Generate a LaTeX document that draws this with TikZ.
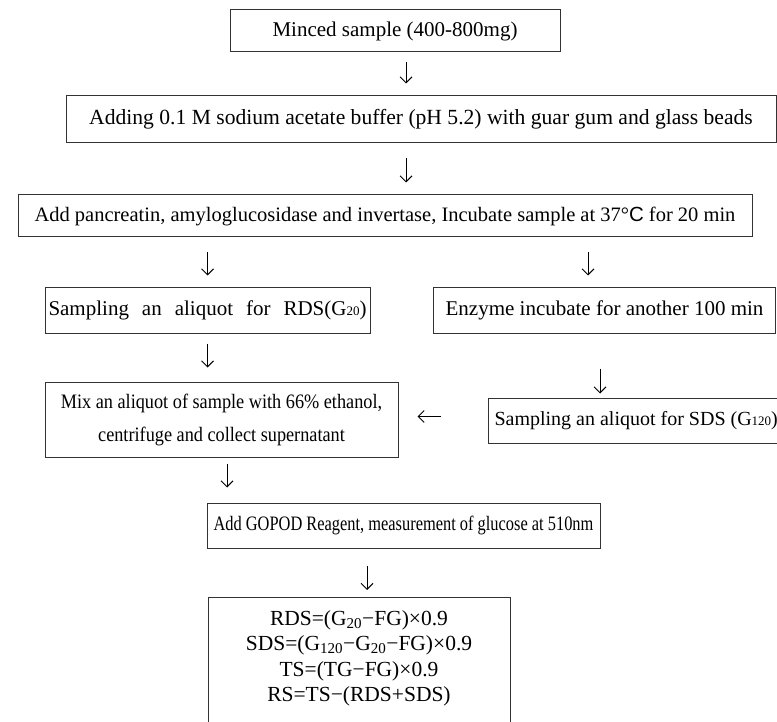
\documentclass[tikz,border=0pt]{standalone}
\usepackage{fontspec}
\setmainfont{Liberation Serif}
\newfontfamily\sansC{Liberation Sans}
\newfontfamily\mixfont[FakeStretch=0.89]{Liberation Serif}
\newfontfamily\gopodfont[FakeStretch=0.8]{Liberation Serif}
\usetikzlibrary{arrows.meta}

\begin{document}
\begin{tikzpicture}[x = 1pt, y = -1pt, >= {Straight Barb[length=6pt,width=12pt]},
  box/.style = {draw = black!80, line width = 1pt, inner sep = 0pt,
                font = \fontsize{21}{30}\selectfont},
  flow/.style = {->, line width = 1pt}]
  \useasboundingbox (0, 0) rectangle (777, 722);
  \clip (0, 0) rectangle (777, 722);
  % boxes
  \node[box, minimum width = 330, minimum height = 42] (minced) at (395, 31) {Minced sample (400-800mg)};
  \node[box, minimum width = 710, minimum height = 47, font = \fontsize{21.6}{30}\selectfont] (adding) at (421, 119.5) {Adding 0.1 M sodium acetate buffer (pH 5.2) with guar gum and glass beads};
  \node[box, minimum width = 734, minimum height = 42, font = \fontsize{20.5}{30}\selectfont] (incub) at (385, 216) {Add pancreatin, amyloglucosidase and invertase, Incubate sample at 37°{\sansC C} for 20 min};
  \node[box, minimum width = 325, minimum height = 45] (rds) at (207.5, 310.5) {\makebox[318pt][s]{Sampling an aliquot for RDS(G{\fontsize{13}{13}\selectfont 20})}};
  \node[box, minimum width = 342, minimum height = 45] (enzyme) at (604.5, 310.5) {Enzyme incubate for another 100 min};
  \node[box, minimum width = 353, minimum height = 75, align = center, font = \fontsize{20.5}{33}\mixfont] (mix) at (221.5, 419.5) {Mix an aliquot of sample with 66\% ethanol,\\centrifuge and collect supernatant};
  \node[box, anchor = west, minimum height = 45, inner xsep = 6pt, font = \fontsize{20}{30}\selectfont] (sds) at (488, 420.5) {Sampling an aliquot for SDS (G{\fontsize{13}{13}\selectfont 120})};
  \node[box, minimum width = 393, minimum height = 45, font = \fontsize{20.5}{30}\gopodfont] (gopod) at (403.5, 525.5) {Add GOPOD Reagent, measurement of glucose at 510nm};
  \node[box, anchor = north, minimum width = 302, minimum height = 160] (calc) at (359, 597) {};
  \node[anchor = north, inner sep = 0pt, align = center, font = \fontsize{21.5}{25.5}\selectfont] (formula) at (359, 610)
    {RDS=(G\textsubscript{20}−FG)×0.9\\SDS=(G\textsubscript{120}−G\textsubscript{20}−FG)×0.9\\TS=(TG−FG)×0.9\\RS=TS−(RDS+SDS)};
  % arrows
  \coordinate (colA) at (406, 0);
  \coordinate (colB) at (588, 0);
  \coordinate (colC) at (227, 0);
  \coordinate (colD) at (367, 0);
  \coordinate (colE) at (600, 0);
  \draw[flow, shorten <= 10pt, shorten >= 12pt] (minced.south -| colA) -- (adding.north -| colA);
  \draw[flow, shorten <= 15pt, shorten >= 12pt] (adding.south -| colA) -- (incub.north -| colA);
  \draw[flow, shorten <= 15pt, shorten >= 12pt] (incub.south -| rds) -- (rds.north);
  \draw[flow, shorten <= 15pt, shorten >= 12pt] (incub.south -| colB) -- (enzyme.north -| colB);
  \draw[flow, shorten <= 10pt, shorten >= 14pt] (rds.south) -- (rds.south |- mix.north);
  \draw[flow, shorten <= 35pt, shorten >= 4pt] (enzyme.south -| colE) -- (sds.north -| colE);
  \draw[flow, shorten <= 47pt, shorten >= 19pt] ([yshift = 4pt]sds.west) -- ([yshift = 4pt]sds.west -| mix.east);
  \draw[flow, shorten <= 6pt, shorten >= 15pt] (mix.south -| colC) -- (gopod.north -| colC);
  \draw[flow, shorten <= 17pt, shorten >= 7pt] (gopod.south -| colD) -- (calc.north -| colD);
\end{tikzpicture}
\end{document}
